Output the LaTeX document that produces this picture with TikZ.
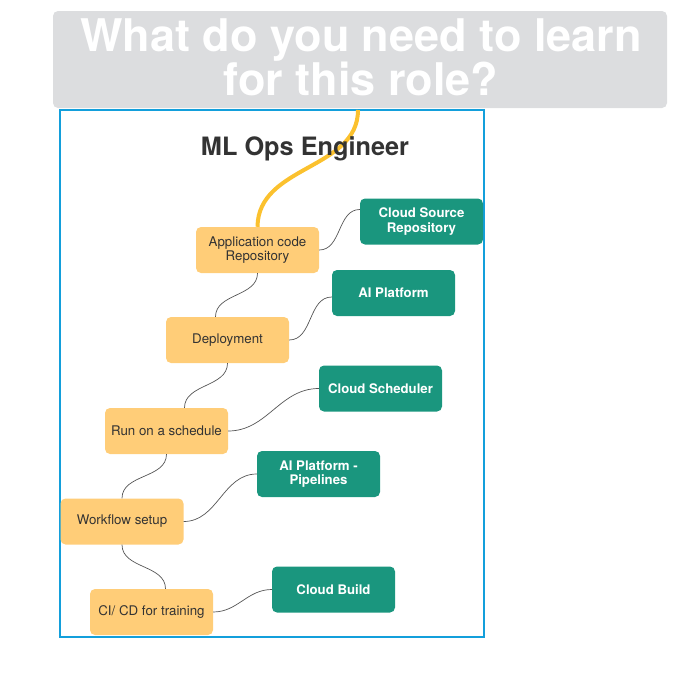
\documentclass[tikz,border=0pt]{standalone}
\usepackage{fontspec}
\setmainfont{TeX Gyre Heros}
\definecolor{bannergrey}{HTML}{DCDDDF}
\definecolor{frameblue}{HTML}{139FDB}
\definecolor{ynode}{HTML}{FFCD78}
\definecolor{gnode}{HTML}{1A967E}
\definecolor{ycurve}{HTML}{FBC12E}
\definecolor{txtdark}{HTML}{333333}
\definecolor{linkgrey}{HTML}{555555}
\tikzset{
  stepnode/.style={fill=ynode, rounded corners=5pt, minimum width=123pt, minimum height=46pt,
    inner sep=0pt, align=center, text=txtdark, font=\fontsize{13.3}{14.5}\selectfont},
  toolnode/.style={fill=gnode, rounded corners=5pt, minimum width=123pt, minimum height=46pt,
    inner sep=0pt, align=center, text=white, font=\fontsize{13.2}{14.5}\selectfont\bfseries},
  link/.style={draw=linkgrey, line width=0.7pt},
}
\begin{document}
\begin{tikzpicture}[x=1pt,y=-1pt]
\useasboundingbox (0,0) rectangle (684,696);
% banner
\fill[bannergrey, rounded corners=5pt] (53,11) rectangle (667,108);
\node[text=white, font=\fontsize{45}{44}\selectfont\bfseries, align=center, anchor=base, inner sep=0pt] (banner) at (361,95) {What do you need to learn\\for this role?};
% frame
\draw[frameblue, line width=2pt] (60,110) rectangle (484,637);
% nodes
\node[stepnode] (app) at (257.5,250) {Application code\\Repository};
\node[stepnode] (dep) at (227.5,340) {Deployment};
\node[stepnode] (run) at (166.5,431) {Run on a schedule};
\node[stepnode] (wf) at (122,521.5) {Workflow setup};
\node[stepnode] (ci) at (151.5,612) {CI/ CD for training};
\node[toolnode] (csr) at (421.5,221.5) {Cloud Source\\Repository};
\node[toolnode] (aip) at (393.5,293) {AI Platform};
\node[toolnode] (sch) at (380.5,388.5) {Cloud Scheduler};
\node[toolnode] (pip) at (318.5,474) {AI Platform -\\Pipelines};
\node[toolnode] (cb) at (333.5,589.5) {Cloud Build};
% yellow curve
\coordinate (ystart) at (358,110);
\draw[ycurve, line width=4pt] (ystart) .. controls (358,170) and (258,165) .. (app.north);
% title
\node[text=txtdark, font=\fontsize{25.3}{28}\selectfont\bfseries, anchor=base, inner sep=0pt] (title) at (305,155) {ML Ops Engineer};
% step links
\draw[link] (app.south) to[out=-90,in=90] ([xshift=-12pt]dep.north);
\draw[link] (dep.south) to[out=-90,in=90] ([xshift=18pt]run.north);
\draw[link] (run.south) to[out=-90,in=90] (wf.north);
\draw[link] (wf.south) to[out=-90,in=90] ([xshift=14pt]ci.north);
% tool links
\draw[link] (app.east) to[out=0,in=180] ([yshift=12pt]csr.west);
\draw[link] (dep.east) to[out=0,in=180] ([yshift=-4pt]aip.west);
\draw[link] (run.east) to[out=0,in=180] (sch.west);
\draw[link] (wf.east) to[out=0,in=180] (pip.west);
\draw[link] (ci.east) to[out=0,in=180] (cb.west);
\end{tikzpicture}
\end{document}
